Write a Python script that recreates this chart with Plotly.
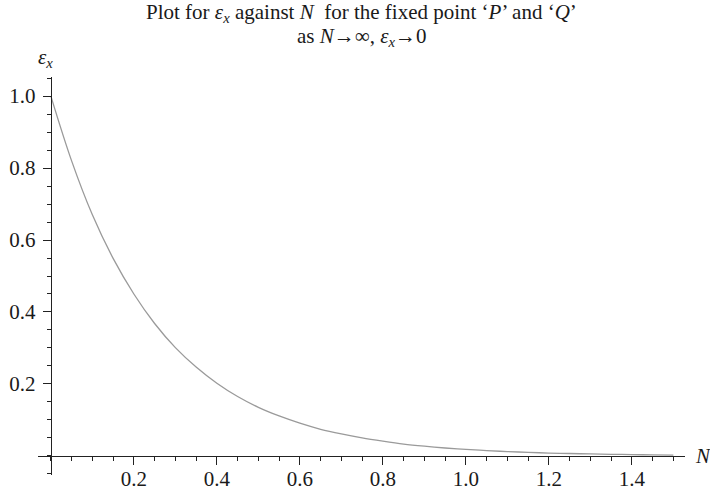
import numpy as np
import plotly.graph_objects as go

# Sampled values of epsilon_x against N
N_vals = [0.00, 0.05, 0.10, 0.15, 0.20, 0.25, 0.30, 0.35, 0.40, 0.45,
          0.50, 0.55, 0.60, 0.65, 0.70, 0.75, 0.80, 0.85, 0.90, 0.95,
          1.00, 1.05, 1.10, 1.15, 1.20, 1.25, 1.30, 1.35, 1.40, 1.45, 1.50]
eps_vals = [1.000, 0.820, 0.670, 0.549, 0.450, 0.368, 0.301, 0.247, 0.202, 0.165,
            0.135, 0.111, 0.091, 0.074, 0.061, 0.050, 0.041, 0.033, 0.027, 0.022,
            0.018, 0.015, 0.012, 0.010, 0.008, 0.0067, 0.0055, 0.0045, 0.0037, 0.0030, 0.0025]

x_ticks = [0.2, 0.4, 0.6, 0.8, 1.0, 1.2, 1.4]
y_ticks = [0.2, 0.4, 0.6, 0.8, 1.0]
x_tick_text = ["0.2", "0.4", "0.6", "0.8", "1.0", "1.2", "1.4"]
y_tick_text = ["0.2", "0.4", "0.6", "0.8", "1.0"]

x_range = [-0.031, 1.528]
y_range = [-0.053, 1.053]

FONT = "Liberation Serif, Times New Roman, serif"
W, H = 710, 497
M_T, M_B = 77, 22


def py(pix):
    """Convert a pixel row of the figure to a paper y coordinate."""
    return (H - M_B - pix) / (H - M_T - M_B)


fig = go.Figure()
fig.add_trace(go.Scatter(
    x=N_vals, y=eps_vals, mode="lines", line_shape="spline",
    line=dict(color="#9a9a9a", width=1.3), hoverinfo="skip", showlegend=False,
))

# axes cross at the origin
x_pos = (0 - y_range[0]) / (y_range[1] - y_range[0])
y_pos = (0 - x_range[0]) / (x_range[1] - x_range[0])

fig.update_layout(
    width=W, height=H,
    margin=dict(l=38, r=25, t=M_T, b=M_B, autoexpand=False),
    paper_bgcolor="white", plot_bgcolor="white",
    font=dict(family=FONT, size=21, color="#1a1a1a"),
    xaxis=dict(
        range=x_range, showgrid=False, zeroline=False, automargin=False,
        showline=True, linecolor="#222", linewidth=1.2,
        anchor="free", position=x_pos,
        tickmode="array", tickvals=x_ticks, ticktext=x_tick_text,
        tickfont=dict(family=FONT, size=21, color="#1a1a1a"),
        ticklabelstandoff=-4,
        ticks="outside", ticklen=8, tickwidth=1.2, tickcolor="#222",
        minor=dict(tickvals=list(np.round(np.arange(0.0, 1.51, 0.05), 2)),
                   ticks="outside", ticklen=4, tickwidth=1, tickcolor="#222"),
    ),
    yaxis=dict(
        range=y_range, showgrid=False, zeroline=False, automargin=False,
        showline=True, linecolor="#222", linewidth=1.2,
        anchor="free", position=y_pos,
        tickmode="array", tickvals=y_ticks, ticktext=y_tick_text,
        tickfont=dict(family=FONT, size=21, color="#1a1a1a"),
        ticklabelstandoff=3,
        ticks="outside", ticklen=8, tickwidth=1.2, tickcolor="#222",
        minor=dict(tickvals=list(np.round(np.arange(-0.05, 1.06, 0.05), 2)),
                   ticks="outside", ticklen=4, tickwidth=1, tickcolor="#222"),
    ),
    annotations=[
        dict(text="Plot for <i>ε<sub>x</sub></i> against <i>N</i>  for the fixed point ‘<i>P</i>’ and ‘<i>Q</i>’",
             x=0.5, y=py(13), xref="paper", yref="paper", xanchor="center", yanchor="middle",
             showarrow=False, font=dict(family=FONT, size=21)),
        dict(text="as <i>N</i>→∞, <i>ε<sub>x</sub></i>→0",
             x=0.5, y=py(37), xref="paper", yref="paper", xanchor="center", yanchor="middle",
             showarrow=False, font=dict(family=FONT, size=21)),
    ],
)

# axis names at the ends of the axes
fig.add_annotation(text="<i>ε<sub>x</sub></i>", xref="x", yref="paper", x=0, xanchor="center",
                   xshift=-5, y=py(58), yanchor="middle", showarrow=False,
                   font=dict(family=FONT, size=21))
fig.add_annotation(text="<i>N</i>", xref="paper", yref="y", x=1.0, xanchor="left", xshift=8,
                   y=0, yanchor="middle", showarrow=False, font=dict(family=FONT, size=21))

fig.write_html("out.html")
